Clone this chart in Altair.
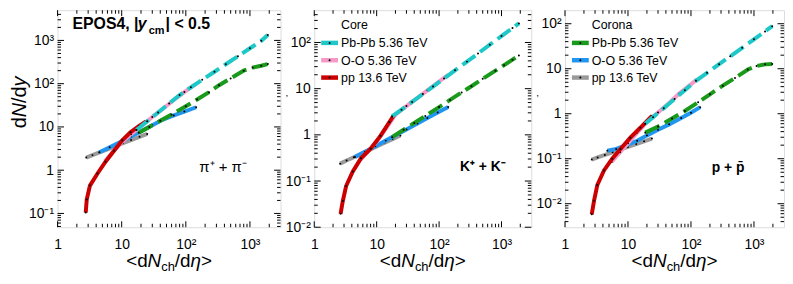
import altair as alt
import pandas as pd

FONT = "Liberation Sans, Arial, Helvetica, sans-serif"

# ---------------- axis ticks / labels ----------------
x_domain = [1, 3000]
x_major = [1, 10, 100, 1000]
x_major_labels = ["1", "10", "10²", "10³"]
x_minor = [m * 10 ** k for k in range(0, 4) for m in range(2, 10) if m * 10 ** k < 3000]

y_domain_pi = [0.048, 5000]
y_domain_K = [0.01, 500]
y_domain_p = [0.003, 200]
y_major_pi = [0.1, 1, 10, 100, 1000]
y_labels_pi = ["10⁻¹", "1", "10", "10²", "10³"]
y_major_K = [0.01, 0.1, 1, 10, 100]
y_labels_K = ["10⁻²", "10⁻¹", "1", "10", "10²"]
y_major_p = [0.01, 0.1, 1, 10, 100]
y_labels_p = ["10⁻²", "10⁻¹", "1", "10", "10²"]

# ---------------- data: pions ----------------
pi_pp_core_x = [2.75, 2.85, 3.2, 4.2, 5.6, 7.6, 10.2, 13.7, 18.5, 24]
pi_pp_core_y = [0.105, 0.21, 0.44, 0.84, 1.57, 2.8, 4.9, 7.5, 10.5, 13.5]
pi_oo_core_x = [5.5, 7.5, 10, 14, 20, 30, 45, 65, 95, 140]
pi_oo_core_y = [1.6, 2.8, 4.4, 6.8, 10.3, 17, 27, 42, 64, 96]
pi_pbpb_core_x = [17, 25, 37, 55, 80, 120, 180, 280, 420, 650, 1000, 1500, 1900]
pi_pbpb_core_y = [8.5, 13.5, 21.6, 34.8, 54.6, 82.5, 123, 189, 281, 431, 659, 980, 1330]
pi_pbpb_cor_x = [18.5, 27, 40, 60, 100, 150, 230, 330, 500, 800, 1100, 1500, 1900]
pi_pbpb_cor_y = [7.3, 10.0, 13.9, 19.4, 30, 43, 63.5, 92, 132, 200, 235, 260, 284]
pi_oo_cor_x = [4.5, 6.5, 9.5, 14, 20, 30, 45, 65, 95, 145]
pi_oo_cor_y = [2.6, 3.4, 4.45, 6.0, 7.9, 10.9, 15, 18.4, 22.6, 28.5]
pi_pp_cor_x = [2.8, 3.5, 4.5, 6, 8, 10.5, 14, 19, 25]
pi_pp_cor_y = [1.96, 2.23, 2.58, 3.04, 3.59, 4.2, 4.96, 5.9, 6.9]

# ---------------- data: kaons ----------------
K_pp_core_x = [2.64, 2.87, 3.24, 4.13, 5.6, 8.0, 11.5, 16, 19]
K_pp_core_y = [0.0195, 0.037, 0.078, 0.16, 0.31, 0.5, 0.95, 1.9, 2.7]
K_oo_core_x = [5.5, 7.5, 10, 14, 20, 30, 45, 65, 95, 140]
K_oo_core_y = [0.29, 0.46, 0.72, 1.35, 2.75, 4.2, 6.3, 9.2, 13.6, 19.8]
K_pbpb_core_x = [17.7, 25, 37, 55, 80, 120, 180, 280, 420, 650, 1000, 1500, 1900]
K_pbpb_core_y = [2.5, 3.51, 5.16, 7.65, 11.1, 16.6, 24.9, 38.5, 57.6, 89.5, 137.5, 205, 259]
K_pbpb_cor_x = [17.7, 27, 40, 60, 100, 150, 230, 330, 500, 800, 1100, 1500, 1900]
K_pbpb_cor_y = [0.89, 1.29, 1.81, 2.57, 4.0, 5.7, 8.3, 11.3, 16.3, 24.5, 32.3, 42.4, 52]
K_oo_cor_x = [4.5, 6.5, 9.5, 14, 20, 30, 45, 65, 95, 140]
K_oo_cor_y = [0.33, 0.43, 0.567, 0.75, 0.98, 1.31, 1.76, 2.31, 3.05, 4.03]
K_pp_cor_x = [2.6, 3.3, 4.3, 5.7, 7.5, 10, 13.5, 18, 24]
K_pp_cor_y = [0.238, 0.278, 0.328, 0.392, 0.466, 0.56, 0.68, 0.81, 0.97]

# ---------------- data: protons ----------------
p_pp_core_x = [2.66, 2.89, 3.26, 4.16, 5.62, 7.6, 10.9, 15.7, 24]
p_pp_core_y = [0.0058, 0.0116, 0.026, 0.055, 0.1, 0.164, 0.294, 0.487, 0.9]
p_oo_core_x = [5.5, 7.5, 10, 14, 20, 30, 45, 65, 90, 125]
p_oo_core_y = [0.085, 0.14, 0.22, 0.38, 0.66, 1.07, 1.74, 2.8, 4.0, 5.8]
p_pbpb_core_x = [18.8, 25, 37, 55, 80, 120, 180, 280, 420, 650, 1000, 1500, 1950]
p_pbpb_core_y = [0.6, 0.84, 1.33, 2.13, 3.32, 5.4, 8.1, 12.6, 18.9, 29.2, 45, 67.5, 88]
p_pbpb_cor_x = [18.8, 30, 50, 80, 130, 200, 320, 500, 800, 1100, 1500, 1950]
p_pbpb_cor_y = [0.38, 0.52, 0.78, 1.15, 1.8, 2.7, 4.2, 6.2, 9.6, 11.5, 12.5, 12.8]
p_oo_cor_x = [4.7, 6.5, 9.5, 14, 20, 30, 45, 70, 100, 140]
p_oo_cor_y = [0.15, 0.165, 0.2, 0.25, 0.33, 0.44, 0.58, 0.8, 1.05, 1.4]
p_pp_cor_x = [2.66, 3.3, 4.3, 5.7, 7.5, 10, 13.5, 18, 24]
p_pp_cor_y = [0.096, 0.107, 0.121, 0.139, 0.159, 0.183, 0.212, 0.244, 0.281]

# ---------------- legends / labels ----------------
legend_core_title = "Core"
legend_corona_title = "Corona"
legend_labels = ["Pb-Pb 5.36 TeV", "O-O 5.36 TeV", "pp 13.6 TeV"]

# styles
C_PBPB_CORE = "#1ec8c8"
C_OO_CORE = "#f59ac8"
C_PP_CORE = "#cc0000"
C_PBPB_COR = "#1a9a1a"
C_OO_COR = "#2196f0"
C_PP_COR = "#9a9a9a"
DASH = [16, 6]

H = 219
AW = {'<': 584, 'd': 556, 'N': 722, 'c': 500, 'h': 556, '/': 278, '>': 584, 'y': 500, 'η': 556}


def wid(s, fs):
    return sum(AW.get(ch, 556) for ch in s) * fs / 1000.0


def label_expr(vals, labels):
    expr = "'" + labels[-1] + "'"
    for i in range(len(vals) - 2, -1, -1):
        thr = (vals[i] * vals[i + 1]) ** 0.5
        expr = "datum.value < %g ? '%s' : %s" % (thr, labels[i], expr)
    return expr


def txt(s, x, y, size, weight="normal", style="normal", align="left", baseline="alphabetic", angle=0):
    return alt.Chart(pd.DataFrame({"t": [s]})).mark_text(
        font=FONT, fontSize=size, fontWeight=weight, fontStyle=style,
        align=align, baseline=baseline, angle=angle, color="black"
    ).encode(x=alt.value(x), y=alt.value(y), text="t:N")


def panel(W, ydom, ymaj, ylab, series, extras):
    X = alt.X("x:Q", scale=alt.Scale(type="log", domain=x_domain),
              axis=alt.Axis(values=x_major, labelExpr=label_expr(x_major, x_major_labels),
                            ticks=False, domain=False, grid=False, title=None,
                            labelFlush=False, labelOverlap=False, labelPadding=10,
                            labelFont=FONT, labelFontSize=14, labelColor="black"))
    Y = alt.Y("y:Q", scale=alt.Scale(type="log", domain=ydom),
              axis=alt.Axis(values=ymaj, labelExpr=label_expr(ymaj, ylab),
                            ticks=False, domain=False, grid=False, title=None,
                            labelFlush=False, labelOverlap=False, labelPadding=4,
                            labelFont=FONT, labelFontSize=14, labelColor="black"))
    layers = []
    for xs, ys, col, dash in series:
        df = pd.DataFrame({"x": xs, "y": ys})
        kw = dict(color=col, strokeWidth=4, strokeCap="butt", clip=True)
        if dash:
            kw["strokeDash"] = dash
        layers.append(alt.Chart(df).mark_line(**kw).encode(x=X, y=Y))
        layers.append(alt.Chart(df).mark_circle(color="black", size=4, opacity=1).encode(x=X, y=Y))
    # inward ticks on all four sides
    ymin_minor = [m * 10 ** k for k in range(-3, 4) for m in range(2, 10)
                  if ydom[0] < m * 10 ** k < ydom[1]]
    xmaj = pd.DataFrame({"x": x_major})
    xmin = pd.DataFrame({"x": x_minor})
    ymj = pd.DataFrame({"y": [v for v in ymaj if ydom[0] <= v <= ydom[1]]})
    ymn = pd.DataFrame({"y": ymin_minor})
    for d, ln in ((xmaj, 6), (xmin, 3.5)):
        layers.append(alt.Chart(d).mark_rule(color="black", strokeWidth=1).encode(
            x=X, y=alt.value(H), y2=alt.value(H - ln)))
        layers.append(alt.Chart(d).mark_rule(color="black", strokeWidth=1).encode(
            x=X, y=alt.value(0), y2=alt.value(ln)))
    for d, ln in ((ymj, 6.5), (ymn, 3.5)):
        layers.append(alt.Chart(d).mark_rule(color="black", strokeWidth=1).encode(
            y=Y, x=alt.value(0), x2=alt.value(ln)))
        layers.append(alt.Chart(d).mark_rule(color="black", strokeWidth=1).encode(
            y=Y, x=alt.value(W), x2=alt.value(W - ln)))
    # x-axis title  <dN_ch/dη>
    pieces = [("<d", 19, "normal", 0), ("N", 19, "italic", 0), ("ch", 13, "normal", 4),
              ("/d", 19, "normal", 0), ("η", 19, "italic", 0), (">", 19, "normal", 0)]
    total = sum(wid(s, fs) for s, fs, _, _ in pieces)
    cx = W / 2 - total / 2
    for s, fs, st, dy in pieces:
        layers.append(txt(s, cx, 259 + dy, fs, style=st))
        cx += wid(s, fs)
    layers += extras
    return alt.layer(*layers).properties(width=W, height=H)


def legend(title, cols, dashes):
    out = [txt(title, 27, 19, 12.5)]
    for i, (lab, col, dash) in enumerate(zip(legend_labels, cols, dashes)):
        yy = 33 + i * 17.5
        out.append(alt.Chart(pd.DataFrame({"t": [lab]})).mark_rule(
            color=col, strokeWidth=4.5, strokeCap="butt").encode(
            x=alt.value(7), x2=alt.value(24), y=alt.value(yy)))
        out.append(alt.Chart(pd.DataFrame({"t": [lab]})).mark_circle(
            color="black", size=4, opacity=1).encode(x=alt.value(15.5), y=alt.value(yy)))
        out.append(txt(lab, 27, yy + 4.5, 12.5))
    # small stray mark left of the frame, as in the original figure
    out.append(txt(",", -29, 87, 10))
    return out


# ---------- panel 1 (pions) ----------
W1, W2, W3 = 225, 219, 221
ex1 = [
    # anchor for the left edge of the whole figure (white, invisible)
    alt.Chart(pd.DataFrame({"t": [0]})).mark_rule(color="white", strokeWidth=0.5).encode(
        x=alt.value(-49), y=alt.value(100), y2=alt.value(101)),
    txt("EPOS4, |", 15, 19, 16, weight="bold"),
    txt("y", 81, 19, 16, weight="bold", style="italic"),
    txt("cm", 92, 24, 11, weight="bold"),
    txt("| < 0.5", 109, 19, 16, weight="bold"),
    txt("π⁺ + π⁻", 143, 158, 15, baseline="middle"),
]
# y title dN/dy (rotated)
ypieces = [("d", "normal"), ("N", "italic"), ("/d", "normal"), ("y", "italic")]
ytot = sum(wid(s, 20) for s, _ in ypieces)
yy0 = 93 + ytot / 2
for s, st in ypieces:
    ex1.append(txt(s, -32, yy0, 20, style=st, angle=270))
    yy0 -= wid(s, 20)

series_pi = [
    (pi_pp_cor_x, pi_pp_cor_y, C_PP_COR, None),
    (pi_oo_cor_x, pi_oo_cor_y, C_OO_COR, None),
    (pi_oo_core_x, pi_oo_core_y, C_OO_CORE, None),
    (pi_pp_core_x, pi_pp_core_y, C_PP_CORE, None),
    (pi_pbpb_cor_x, pi_pbpb_cor_y, C_PBPB_COR, DASH),
    (pi_pbpb_core_x, pi_pbpb_core_y, C_PBPB_CORE, DASH),
]
series_K = [
    (K_pp_cor_x, K_pp_cor_y, C_PP_COR, None),
    (K_oo_cor_x, K_oo_cor_y, C_OO_COR, None),
    (K_oo_core_x, K_oo_core_y, C_OO_CORE, None),
    (K_pp_core_x, K_pp_core_y, C_PP_CORE, None),
    (K_pbpb_cor_x, K_pbpb_cor_y, C_PBPB_COR, DASH),
    (K_pbpb_core_x, K_pbpb_core_y, C_PBPB_CORE, DASH),
]
series_p = [
    (p_pp_cor_x, p_pp_cor_y, C_PP_COR, None),
    (p_oo_cor_x, p_oo_cor_y, C_OO_COR, None),
    (p_oo_core_x, p_oo_core_y, C_OO_CORE, None),
    (p_pp_core_x, p_pp_core_y, C_PP_CORE, None),
    (p_pbpb_cor_x, p_pbpb_cor_y, C_PBPB_COR, DASH),
    (p_pbpb_core_x, p_pbpb_core_y, C_PBPB_CORE, DASH),
]

ex2 = legend(legend_core_title, [C_PBPB_CORE, C_OO_CORE, C_PP_CORE], [DASH, None, None])
ex2.append(txt("K⁺ + K⁻", 147, 158, 14, weight="bold", baseline="middle"))
ex3 = legend(legend_corona_title, [C_PBPB_COR, C_OO_COR, C_PP_COR], [DASH, None, None])
ex3.append(txt("p + p\u0304", 148, 159, 14, weight="bold", baseline="middle"))

p1 = panel(W1, y_domain_pi, y_major_pi, y_labels_pi, series_pi, ex1)
p2 = panel(W2, y_domain_K, y_major_K, y_labels_K, series_K, ex2)
p3 = panel(W3, y_domain_p, y_major_p, y_labels_p, series_p, ex3)

chart = alt.hconcat(p1, p2, p3, spacing=34, bounds="flush").properties(
    padding=0
).configure_view(stroke="black", strokeWidth=1.5).configure(background="white")

chart.save("out.html", embed_options={"renderer": "svg", "actions": False})
